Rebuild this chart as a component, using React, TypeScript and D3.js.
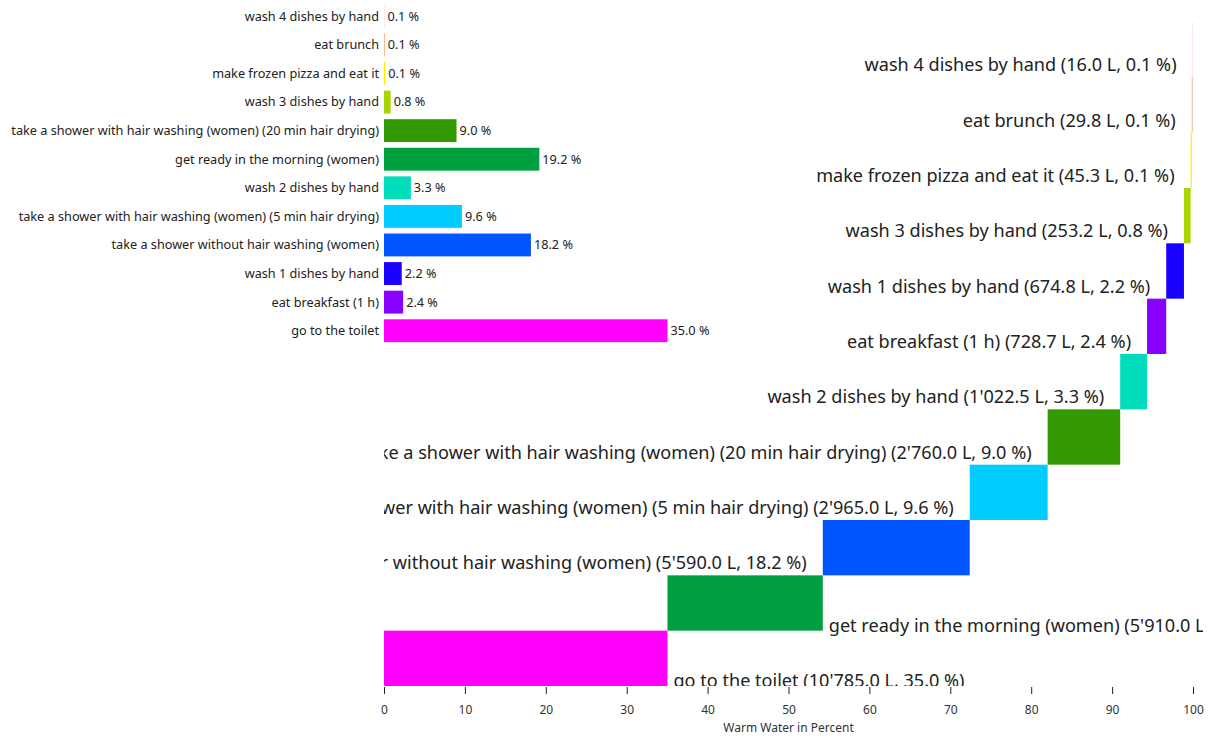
import React, { useEffect, useRef } from "react";
import * as d3 from "d3";

const activities = [
  "wash 4 dishes by hand",
  "eat brunch",
  "make frozen pizza and eat it",
  "wash 3 dishes by hand",
  "take a shower with hair washing (women) (20 min hair drying)",
  "get ready in the morning (women)",
  "wash 2 dishes by hand",
  "take a shower with hair washing (women) (5 min hair drying)",
  "take a shower without hair washing (women)",
  "wash 1 dishes by hand",
  "eat breakfast (1 h)",
  "go to the toilet",
];
const liters = [16.0, 29.8, 45.3, 253.2, 2760.0, 5910.0, 1022.5, 2965.0, 5590.0, 674.8, 728.7, 10785.0];
const colors = [
  "#ffc8c0", "#f5a66b", "#ffea00", "#a8d400", "#339900", "#00a040",
  "#00dcbc", "#00ccff", "#0055ff", "#1a00ff", "#8800ff", "#ff00ff",
];
const xTicks = [0, 10, 20, 30, 40, 50, 60, 70, 80, 90, 100];
const axisTitle = "Warm Water in Percent";

const W = 1214;
const H = 738;
const FONT = "'Noto Sans', 'Open Sans', sans-serif";

export default function App() {
  const ref = useRef<SVGSVGElement | null>(null);

  useEffect(() => {
    const svg = d3.select(ref.current);
    svg.selectAll("*").remove();

    const total = d3.sum(liters);
    const items = activities.map((name, i) => ({
      name,
      liters: liters[i],
      pct: (liters[i] / total) * 100,
      color: colors[i],
    }));

    const x = d3.scaleLinear().domain([0, 100]).range([384, 1193]);
    const loc = d3.formatLocale({ decimal: ".", thousands: "'", grouping: [3], currency: ["", ""] });
    const fmtL = loc.format(",.1f");
    const fmtP = d3.format(".1f");

    // ---------- waterfall ----------
    const sorted = items.slice().sort((a, b) => b.liters - a.liters);
    let acc = 0;
    const wf = sorted.map((d) => {
      const start = acc;
      acc += d.pct;
      return { ...d, start, end: acc };
    });
    const yW = d3
      .scaleBand<string>()
      .domain(wf.map((d) => d.name))
      .range([686, 22])
      .paddingInner(0)
      .paddingOuter(0);

    svg
      .append("defs")
      .append("clipPath")
      .attr("id", "wfclip")
      .append("rect")
      .attr("x", 384)
      .attr("y", 0)
      .attr("width", 1203 - 384)
      .attr("height", 686);

    const gW = svg.append("g").attr("clip-path", "url(#wfclip)");
    gW.selectAll("rect.wf")
      .data(wf)
      .join("rect")
      .attr("class", "wf")
      .attr("x", (d) => x(d.start))
      .attr("y", (d) => yW(d.name)!)
      .attr("width", (d) => Math.max(0, x(d.end) - x(d.start)))
      .attr("height", yW.bandwidth())
      .attr("fill", (d) => d.color);

    gW.selectAll("text.wf")
      .data(wf)
      .join("text")
      .attr("class", "wf")
      .each(function (d) {
        const leftSpace = x(d.start) - x(0);
        const rightSpace = x(100) - x(d.end);
        const right = rightSpace > leftSpace;
        const bottom = yW(d.name)! + yW.bandwidth();
        d3.select(this)
          .attr("x", right ? x(d.end) + 6 : x(d.start) - 16)
          .attr("y", right ? bottom + 1 : bottom - 6)
          .attr("text-anchor", right ? "start" : "end");
      })
      .attr("font-family", FONT)
      .attr("font-size", 18.1)
      .attr("fill", "#222")
      .text((d) => `${d.name} (${fmtL(d.liters)} L, ${fmtP(d.pct)} %)`);

    // ---------- axis ----------
    const axis = d3
      .axisBottom(x)
      .tickValues(xTicks)
      .tickSize(7)
      .tickSizeOuter(0)
      .tickPadding(11);
    const gA = svg.append("g").attr("transform", "translate(0,687)").call(axis);
    gA.select(".domain").remove();
    gA.selectAll(".tick line").attr("stroke", "#222");
    gA.selectAll(".tick text")
      .attr("font-family", FONT)
      .attr("font-size", 12)
      .attr("fill", "#333");
    svg
      .append("text")
      .attr("x", (x(0) + x(100)) / 2)
      .attr("y", 732)
      .attr("text-anchor", "middle")
      .attr("font-family", FONT)
      .attr("font-size", 12)
      .attr("fill", "#333")
      .text(axisTitle);

    // ---------- small bar chart ----------
    const yB = d3
      .scaleBand<string>()
      .domain(items.map((d) => d.name))
      .range([2, 345])
      .paddingInner(0.2)
      .paddingOuter(0.1);
    const gB = svg.append("g");
    gB.selectAll("rect")
      .data(items)
      .join("rect")
      .attr("x", x(0))
      .attr("y", (d) => yB(d.name)!)
      .attr("width", (d) => x(d.pct) - x(0))
      .attr("height", yB.bandwidth())
      .attr("fill", (d) => d.color);
    gB.selectAll("text.lab")
      .data(items)
      .join("text")
      .attr("class", "lab")
      .attr("x", x(0) - 5)
      .attr("y", (d) => yB(d.name)! + yB.bandwidth() / 2)
      .attr("dy", "0.35em")
      .attr("text-anchor", "end")
      .attr("font-family", FONT)
      .attr("font-size", 12.7)
      .attr("fill", "#222")
      .text((d) => d.name);
    gB.selectAll("text.val")
      .data(items)
      .join("text")
      .attr("class", "val")
      .attr("x", (d) => x(d.pct) + 3)
      .attr("y", (d) => yB(d.name)! + yB.bandwidth() / 2)
      .attr("dy", "0.35em")
      .attr("font-family", FONT)
      .attr("font-size", 12.7)
      .attr("fill", "#222")
      .text((d) => `${fmtP(d.pct)} %`);
  }, []);

  return (
    <svg
      ref={ref}
      width={W}
      height={H}
      style={{ position: "absolute", left: 0, top: 0, display: "block" }}
    />
  );
}
